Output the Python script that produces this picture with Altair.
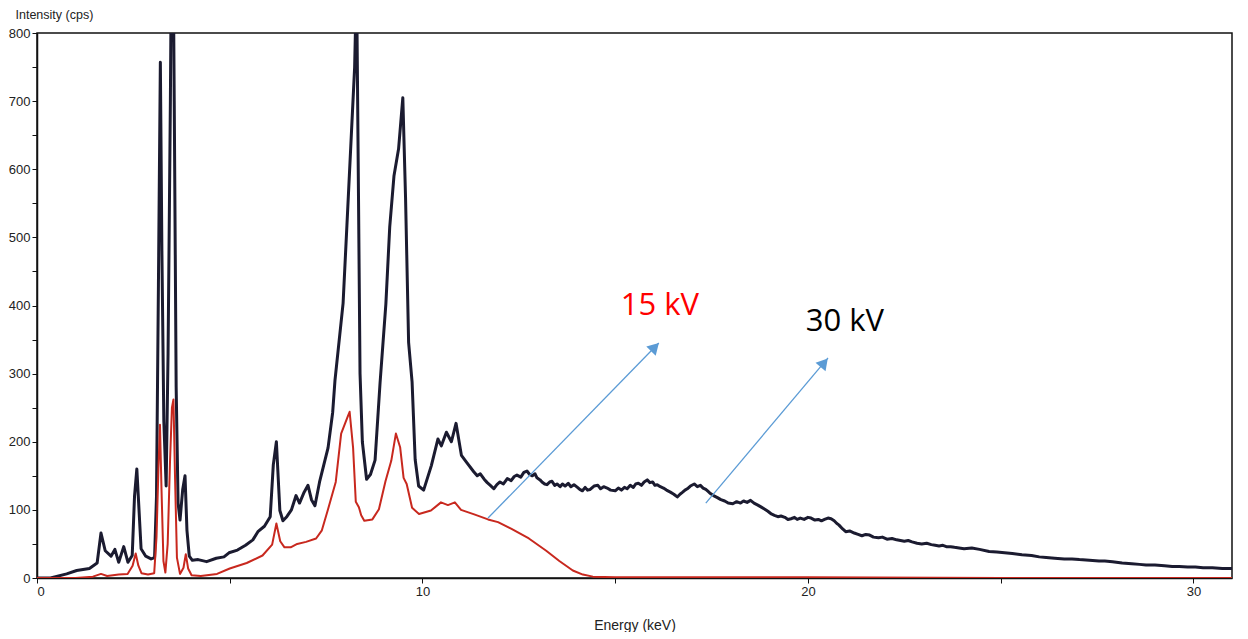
import altair as alt
import pandas as pd

# ---- 30 kV spectrum (black) ----
kev_30 = [0.0, 0.35, 0.77, 1.03, 1.36, 1.56, 1.66, 1.77, 1.92, 2.02, 2.12, 2.25, 2.36, 2.47, 2.53, 2.59,
          2.70, 2.82, 2.96, 3.05, 3.10, 3.15, 3.20, 3.24, 3.29, 3.35, 3.40, 3.46, 3.51, 3.56, 3.61, 3.66,
          3.71, 3.78, 3.84, 3.89, 3.95, 4.03, 4.18, 4.40, 4.65, 4.85, 4.98, 5.20, 5.41, 5.60, 5.73, 5.90,
          6.05, 6.13, 6.21, 6.30, 6.38, 6.48, 6.60, 6.72, 6.81, 6.93, 7.03, 7.12, 7.21, 7.33, 7.55, 7.67,
          7.73, 7.94, 8.04, 8.14, 8.24, 8.29, 8.34, 8.38, 8.44, 8.55, 8.65, 8.77, 8.90, 9.05, 9.15, 9.26,
          9.38, 9.49, 9.56, 9.64, 9.73, 9.81, 9.90, 10.03, 10.23, 10.40, 10.49, 10.62, 10.75, 10.87, 11.01,
          11.14, 11.33, 11.42, 11.50, 11.60, 11.68, 11.76, 11.85, 11.93, 12.01, 12.10, 12.20, 12.30, 12.38,
          12.45, 12.55, 12.63, 12.71, 12.78, 12.85, 12.92, 12.97, 13.05, 13.10, 13.17, 13.23, 13.30, 13.36,
          13.43, 13.49, 13.57, 13.63, 13.70, 13.78, 13.85, 13.93, 14.02, 14.08, 14.15, 14.22, 14.28, 14.35,
          14.45, 14.55, 14.62, 14.70, 14.79, 14.88, 15.00, 15.08, 15.16, 15.24, 15.31, 15.39, 15.47, 15.53,
          15.60, 15.68, 15.75, 15.83, 15.90, 15.97, 16.03, 16.09, 16.17, 16.25, 16.33, 16.43, 16.52, 16.61,
          16.68, 16.75, 16.81, 16.87, 16.95, 17.05, 17.13, 17.21, 17.28, 17.35, 17.41, 17.47, 17.55, 17.65,
          17.74, 17.84, 17.93, 18.05, 18.15, 18.25, 18.33, 18.42, 18.51, 18.60, 18.70, 18.79, 18.88, 18.96,
          19.05, 19.13, 19.22, 19.30, 19.40, 19.48, 19.56, 19.65, 19.72, 19.80, 19.90, 20.00, 20.08, 20.18,
          20.27, 20.35, 20.43, 20.52, 20.60, 20.68, 20.75, 20.80, 20.90, 20.98, 21.08, 21.20, 21.30, 21.40,
          21.50, 21.60, 21.70, 21.83, 21.93, 22.05, 22.18, 22.30, 22.40, 22.50, 22.60, 22.70, 22.83, 22.95,
          23.08, 23.20, 23.30, 23.40, 23.50, 23.59, 23.70, 23.80, 23.92, 24.05, 24.25, 24.45, 24.70, 24.90,
          25.10, 25.30, 25.55, 25.80, 26.00, 26.18, 26.40, 26.65, 26.85, 27.04, 27.30, 27.55, 27.70, 27.90,
          28.15, 28.40, 28.60, 28.77, 29.00, 29.25, 29.45, 29.63, 29.85, 30.05, 30.25, 30.49, 30.75, 31.00]
cps_30 = [0, 0, 6, 11, 14, 22, 66, 40, 32, 42, 23, 46, 23, 33, 120, 160,
          43, 32, 28, 30, 120, 430, 757, 480, 230, 135, 330, 700, 1100, 700, 280, 110,
          85, 130, 150, 70, 32, 26, 27, 24, 29, 31, 37, 41, 48, 56, 68, 76,
          90, 166, 200, 99, 84, 90, 100, 121, 110, 126, 136, 115, 106, 141, 191, 243,
          290, 403, 518, 634, 750, 880, 560, 300, 200, 145, 152, 173, 287, 402, 515, 590,
          630, 705, 560, 346, 288, 174, 135, 129, 165, 204, 194, 214, 200, 227, 180,
          170, 156, 150, 153, 145, 140, 136, 131, 137, 141, 138, 146, 143, 149,
          151, 148, 155, 157, 152, 150, 153, 147, 144, 141, 138, 137, 141, 142,
          136, 138, 134, 138, 135, 139, 134, 137, 133, 130, 128, 133, 129, 130,
          135, 136, 131, 134, 132, 129, 128, 132, 129, 133, 131, 136, 133, 138,
          139, 136, 141, 144, 140, 141, 136, 137, 134, 132, 129, 126, 123, 119,
          123, 126, 129, 131, 135, 138, 134, 136, 132, 130, 127, 124, 121, 118,
          115, 113, 110, 109, 112, 110, 113, 111, 114, 110, 107, 104, 101, 98,
          94, 92, 90, 91, 89, 86, 87, 89, 86, 88, 86, 89, 88, 85,
          86, 84, 86, 88, 87, 84, 80, 78, 72, 68, 69, 66, 64, 62,
          64, 63, 60, 59, 60, 57, 58, 56, 55, 54, 55, 53, 51, 50,
          51, 49, 48, 47, 48, 46, 46, 45, 44, 43, 44, 42, 39, 38,
          37, 36, 34, 33, 31, 30, 29, 28, 28, 27, 26, 25, 25, 24,
          22, 21, 20, 19, 19, 18, 17, 17, 16, 16, 15, 15, 14, 14]

# ---- 15 kV spectrum (red) ----
kev_15 = [0.0, 1.0, 1.45, 1.66, 1.82, 2.12, 2.35, 2.48, 2.56, 2.63, 2.71, 2.88, 3.04, 3.10, 3.15, 3.19,
          3.23, 3.28, 3.33, 3.39, 3.45, 3.50, 3.54, 3.58, 3.63, 3.71, 3.80, 3.86, 3.92, 4.01, 4.25, 4.67,
          5.00, 5.44, 5.85, 6.10, 6.21, 6.31, 6.42, 6.58, 6.75, 6.98, 7.24, 7.39, 7.55, 7.75, 7.89, 8.06,
          8.11, 8.20, 8.27, 8.35, 8.41, 8.49, 8.70, 8.87, 9.04, 9.19, 9.31, 9.42, 9.51, 9.59, 9.73, 9.91,
          10.22, 10.48, 10.66, 10.84, 11.00, 11.36, 11.70, 11.96, 12.31, 12.76, 13.21, 13.55, 13.90, 14.16,
          14.42, 15.00, 20.00, 25.00, 31.00]
cps_15 = [0, 0, 2, 6, 3, 5, 6, 18, 36, 18, 7, 5, 7, 60, 160, 225,
          130, 25, 8, 50, 170, 250, 262, 150, 30, 6, 15, 35, 14, 4, 3, 6,
          14, 22, 33, 49, 80, 54, 45, 45, 50, 53, 58, 70, 101, 141, 212, 237,
          244, 191, 112, 104, 92, 84, 86, 101, 142, 172, 212, 192, 147, 138, 103, 94,
          99, 111, 107, 111, 100, 93, 86, 82, 72, 58, 40, 25, 11, 5,
          2, 1, 1, 0, 0]

# ---- annotations ----
label_text = ["15 kV", "30 kV"]
label_color = ["#FF0000", "#000000"]
label_kev = [16.16, 20.96]
label_cps = [400, 376]

arrow_kev_start = [11.70, 17.35]
arrow_cps_start = [88, 110]
arrow_kev_tip = [16.13, 20.52]
arrow_cps_tip = [345, 323]
head_kev = [16.03, 20.42]
head_cps = [339, 316]
head_angle = [44, 40]

ARROW = "#5B9BD5"
FONT = "Liberation Sans"

df30 = pd.DataFrame({"keV": kev_30, "cps": cps_30})
df15 = pd.DataFrame({"keV": kev_15, "cps": cps_15})
dflab = pd.DataFrame({"keV": label_kev, "cps": label_cps, "t": label_text, "c": label_color})
dfarr = pd.DataFrame({"keV": arrow_kev_start, "cps": arrow_cps_start,
                      "keV2": arrow_kev_tip, "cps2": arrow_cps_tip})
dfhead = pd.DataFrame({"keV": head_kev, "cps": head_cps, "ang": head_angle})

x_axis = alt.Axis(values=[0, 5, 10, 15, 20, 25, 30],
                  labelExpr="datum.value % 10 == 0 ? datum.label : ''",
                  title="Energy (keV)", grid=False, domainColor="#111", domainWidth=1.5,
                  tickColor="#111", tickSize=5, labelColor="#222", labelFont=FONT,
                  labelFontSize=13, titleFont=FONT, titleFontSize=14, titleFontWeight="normal",
                  titleColor="#222", titlePadding=20)
y_axis = alt.Axis(values=list(range(0, 801, 50)),
                  labelExpr="datum.value % 100 == 0 ? datum.label : ''",
                  title="Intensity (cps)", grid=False, domainColor="#111", domainWidth=1.5,
                  tickColor="#111", tickSize=5, labelColor="#222", labelFont=FONT,
                  labelFontSize=13, titleFont=FONT, titleFontSize=12.5, titleFontWeight="normal",
                  titleColor="#222", titleAngle=0, titleAlign="left", titleBaseline="top",
                  titleX=-22, titleY=-25)

xs = alt.Scale(domain=[0, 31], nice=False, zero=False)
ys = alt.Scale(domain=[0, 800], nice=False)


def X():
    return alt.X("keV:Q", scale=xs, axis=x_axis)


def Y():
    return alt.Y("cps:Q", scale=ys, axis=y_axis)


black = alt.Chart(df30).mark_line(clip=True, color="#1b1b30", strokeWidth=3,
                                  strokeJoin="round").encode(x=X(), y=Y())
red = alt.Chart(df15).mark_line(clip=True, color="#c8281e", strokeWidth=2,
                                strokeJoin="round").encode(x=X(), y=Y())
arrows = alt.Chart(dfarr).mark_rule(color=ARROW, strokeWidth=1.3).encode(
    x=X(), y=Y(), x2="keV2:Q", y2="cps2:Q")
heads = alt.Chart(dfhead).mark_point(shape="triangle-up", filled=True, size=170,
                                     color=ARROW, opacity=1).encode(
    x=X(), y=Y(), angle=alt.Angle("ang:Q", scale=None))
labels = alt.Chart(dflab).mark_text(font="Open Sans", fontSize=31, align="center",
                                    baseline="middle").encode(
    x=X(), y=Y(), text="t:N", color=alt.Color("c:N", scale=None))

chart = alt.layer(black, red, arrows, heads, labels).properties(
    width=1195, height=545,
    padding={"left": 0, "top": 0, "right": 4, "bottom": 0},
    background="white",
).configure_view(stroke="#111", strokeWidth=1.5)

chart.save("out.html", embed_options={"renderer": "svg", "actions": False})
